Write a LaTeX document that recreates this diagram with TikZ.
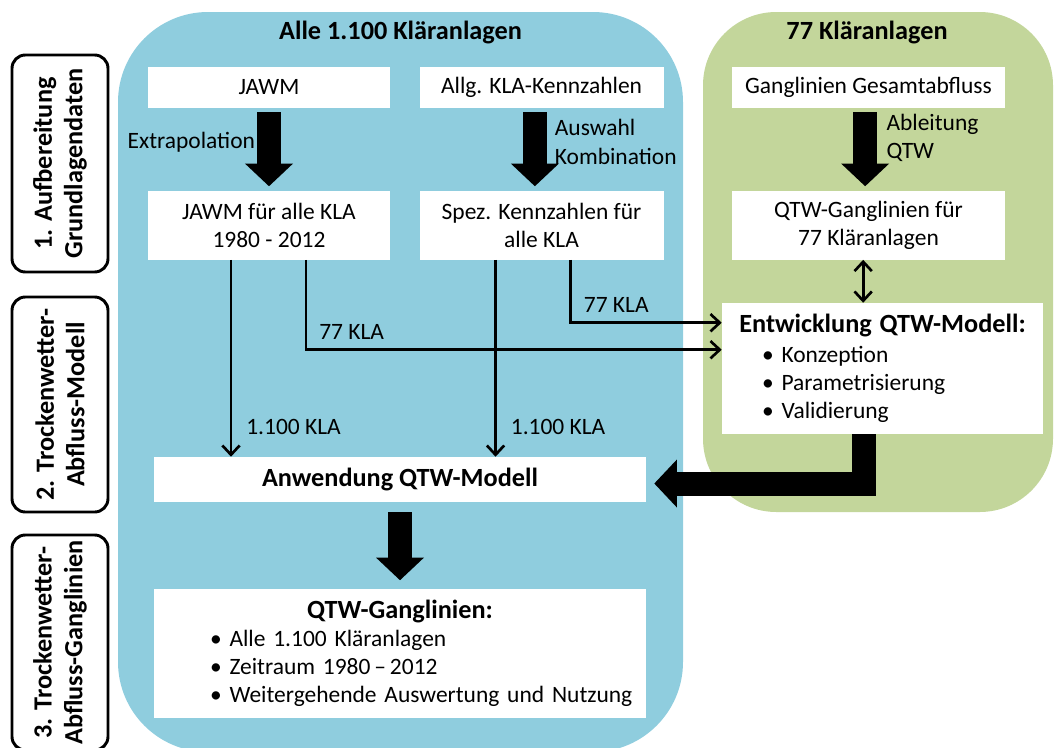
\documentclass[tikz,border=0pt]{standalone}
\usepackage{fontspec}
\setmainfont{Carlito}
\usetikzlibrary{arrows.meta, positioning, calc}

\definecolor{allBlue}{RGB}{143,205,222}
\definecolor{subGreen}{RGB}{195,214,155}

\newcommand{\bodyfont}{\fontsize{17.6}{21}\selectfont}
\newcommand{\headfont}{\fontsize{19.7}{23}\selectfont\bfseries}
\newcommand{\bul}[1]{\hspace*{#1}\textbullet\ }

\begin{document}
\begin{tikzpicture}[
    x=0.75pt, y=-0.75pt,
    node distance=61.5pt,
    every node/.style={font=\bodyfont, align=center, inner sep=0pt},
    box/.style={fill=white, minimum height=30.75pt},
    tallbox/.style={fill=white, minimum height=51.75pt},
    phase/.style={draw=black, line width=2.2pt, rounded corners=10pt, fill=white, rotate=90, minimum height=72pt, font=\headfont},
    bigarrow/.style={line width=18pt, -{Triangle[width=35pt, length=17pt]}},
    arrow/.style={line width=2pt, -{Straight Barb[length=7pt, width=13pt]}},
    twoarrow/.style={line width=2pt, {Straight Barb[length=7pt, width=13pt]}-{Straight Barb[length=7pt, width=13pt]}}
]
\useasboundingbox (0,0) rectangle (1054,747);

% Background panels
\fill[allBlue, rounded corners=67.5pt] (118,12) rectangle (683,752);
\fill[subGreen, rounded corners=55pt] (703,12) rectangle (1053,512);

% Phase labels
\node (phaseOne) [phase, minimum width=162.75pt] at (60,163.5) {1. Aufbereitung\\Grundlagendaten};
\node (phaseTwo) [phase, minimum width=161.25pt] at (60,404.5) {2. Trockenwetter-\\Abfluss-Modell};
\node (phaseThree) [phase, minimum width=161.25pt] at (60,642.5) {3. Trockenwetter-\\Abfluss-Ganglinien};

% Titles
\node (allTitle) [font=\headfont] at (400.5,33) {Alle 1.100 Kläranlagen};
\node (subTitle) [font=\headfont] at (867,33) {77 Kläranlagen};

% Nodes
\node (jawm) [box, minimum width=181.5pt] at (269,87.5) {JAWM};
\node (allg) [box, minimum width=183pt, right=21.75pt of jawm] {Allg. KLA-Kennzahlen};
\node (gesamt) [box, minimum width=204.75pt] at (868.5,87.5) {Ganglinien Gesamtabfluss};

\node (jawmAll) [tallbox, minimum width=181.5pt, below=of jawm] {JAWM für alle KLA\\1980 - 2012};
\node (spez) [tallbox, minimum width=183pt, below=of allg] {Spez. Kennzahlen für\\alle KLA};
\node (qtwGang) [tallbox, minimum width=204.75pt, below=of gesamt] {QTW-Ganglinien für\\77 Kläranlagen};

% Model development
\node (entw) [fill=white, minimum height=98.25pt, text width=240.75pt, align=left] at (882.5,368.5) {\makebox[\linewidth]{\headfont Entwicklung QTW-Modell:}\\[1.5pt]
    \bul{30pt}Konzeption\\
    \bul{30pt}Parametrisierung\\
    \bul{30pt}Validierung};

% Application and result
\node (anw) [box, minimum width=369pt, minimum height=33.75pt, font=\headfont] at (400,479.5) {Anwendung QTW-Modell};
\node (ganglinien) [fill=white, minimum height=96.75pt, text width=369pt, align=left, below=64.5pt of anw] {\makebox[\linewidth]{\headfont QTW-Ganglinien:}\\
    \bul{42pt}Alle 1.100 Kläranlagen\\
    \bul{42pt}Zeitraum 1980\,–\,2012\\
    \bul{42pt}Weitergehende Auswertung und Nutzung};

% Arrows
\draw[bigarrow, shorten <=3pt, shorten >=3pt] (jawm) -- (jawmAll) node[midway, left=1.5pt, yshift=5pt] {Extrapolation};
\draw[bigarrow, shorten <=3pt, shorten >=3pt] ([xshift=-5pt]allg.south) -- ([xshift=-5pt]spez.north) node[midway, right=6pt, yshift=5.5pt, align=left] {Auswahl\\Kombination};
\draw[bigarrow, shorten <=3pt, shorten >=3pt] ([xshift=-2.5pt]gesamt.south) -- ([xshift=-2.5pt]qtwGang.north) node[midway, right=7pt, yshift=8.6pt, align=left] {Ableitung\\QTW};
\draw[twoarrow] ([xshift=-4pt]qtwGang.south) -- ([xshift=-4pt]qtwGang.south |- entw.north);

\draw[arrow] ([xshift=-28.5pt]jawmAll.south) -- ([xshift=-28.5pt]jawmAll.south |- anw.north) node[pos=0.85, right=10.5pt] {1.100 KLA};
\draw[arrow] ([xshift=27.75pt]jawmAll.south) |- ($(entw.north west)+(0,47)$) node[pos=0.5, anchor=west, xshift=9pt, yshift=13.5pt] {77 KLA};
\draw[arrow] ([xshift=-34.5pt]spez.south) -- ([xshift=-34.5pt]spez.south |- anw.north) node[pos=0.85, right=10.5pt] {1.100 KLA};
\draw[arrow] ([xshift=21.75pt]spez.south) |- ($(entw.north west)+(0,20)$) node[pos=0.5, anchor=west, xshift=9pt, yshift=13.5pt] {77 KLA};

\draw[bigarrow, line join=miter, shorten >=6pt] ([xshift=-13.9pt]entw.south) |- ([yshift=-3pt]anw.east);
\draw[bigarrow, shorten <=7.5pt, shorten >=6pt] (anw) -- (ganglinien);

\end{tikzpicture}
\end{document}
